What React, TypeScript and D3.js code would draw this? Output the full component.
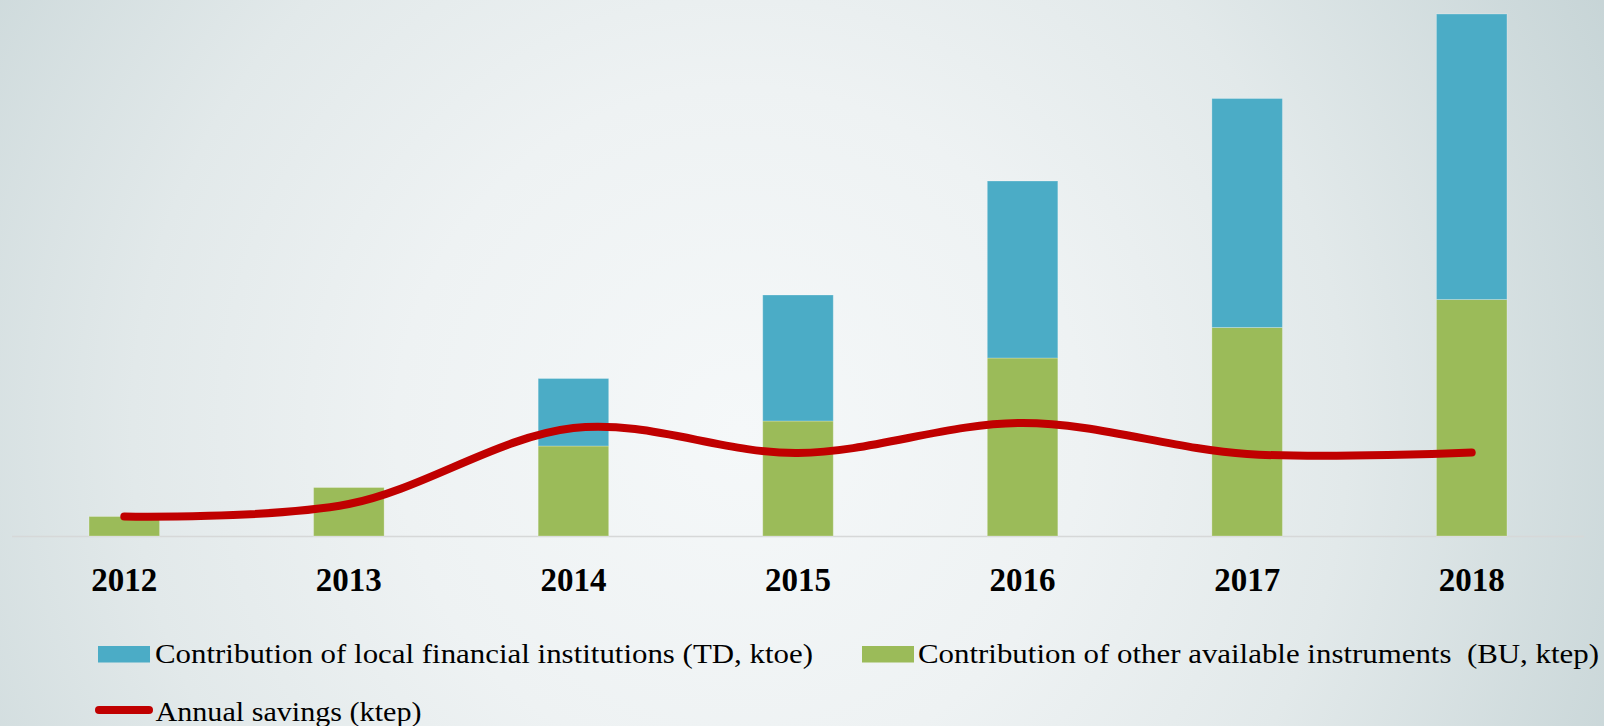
import React from "react";
import * as d3 from "d3";

const years = ["2012", "2013", "2014", "2015", "2016", "2017", "2018"];
const buValues = [39, 97, 180, 230, 356, 417, 473]; // other instruments (BU, ktep)
const tdValues = [0, 0, 135, 252, 354, 458, 571]; // local financial institutions (TD, ktoe)
const savingsValues = [39, 64, 216, 166, 226, 164, 167]; // annual savings (ktep)

const legendLabels = [
  "Contribution of local financial institutions (TD, ktoe)",
  "Contribution of other available instruments  (BU, ktep)",
  "Annual savings (ktep)",
];

const W = 1604;
const H = 726;
const BLUE = "#4BACC6";
const GREEN = "#9BBB59";
const RED = "#C00000";

export default function App() {
  const x = d3
    .scaleBand<string>()
    .domain(years)
    .range([12, 1584])
    .paddingInner(0.686)
    .paddingOuter(0.343);
  const maxTotal = d3.max(years.map((_, i) => buValues[i] + tdValues[i])) as number;
  const y = d3.scaleLinear().domain([0, maxTotal]).range([536, 14]);

  const stacked = years.map((yr, i) => ({ yr, bu: buValues[i], td: tdValues[i] }));
  const series = d3.stack<any>().keys(["bu", "td"])(stacked);
  const colors: Record<string, string> = { bu: GREEN, td: BLUE };

  const line = d3
    .line<number>()
    .x((_, i) => (x(years[i]) as number) + x.bandwidth() / 2)
    .y((d) => y(d))
    .curve(d3.curveCardinal.tension(0));

  const fontSerif = "'Liberation Serif', 'Times New Roman', serif";

  return (
    <svg
      width={W}
      height={H}
      style={{ position: "absolute", left: 0, top: 0, display: "block" }}
    >
      <defs>
        <radialGradient
          id="bg"
          gradientUnits="userSpaceOnUse"
          cx={740}
          cy={430}
          r={980}
        >
          <stop offset="0" stopColor="#f5f8f9" />
          <stop offset="0.35" stopColor="#eef2f3" />
          <stop offset="0.62" stopColor="#e2e9ea" />
          <stop offset="1" stopColor="#c6d4d6" />
        </radialGradient>
      </defs>
      <rect x={0} y={0} width={W} height={H} fill="url(#bg)" />

      {/* axis line */}
      <line x1={12} x2={1584} y1={536.5} y2={536.5} stroke="#d6d8d8" strokeWidth={1.5} />

      {/* bars */}
      {series.map((s) => (
        <g key={s.key} fill={colors[s.key]}>
          {s.map((d: any, i: number) =>
            d[1] - d[0] > 0 ? (
              <rect
                key={i}
                x={x(years[i]) as number}
                width={x.bandwidth()}
                y={y(d[1])}
                height={y(d[0]) - y(d[1])}
                stroke="rgba(255,255,255,0.25)"
                strokeWidth={1}
              />
            ) : null
          )}
        </g>
      ))}

      {/* line */}
      <path
        d={line(savingsValues) || ""}
        fill="none"
        stroke={RED}
        strokeWidth={8}
        strokeLinecap="round"
        strokeLinejoin="round"
      />

      {/* x labels */}
      {years.map((yr) => (
        <text
          key={yr}
          x={(x(yr) as number) + x.bandwidth() / 2}
          y={590.5}
          textAnchor="middle"
          fontFamily={fontSerif}
          fontWeight="bold"
          fontSize={33}
          fill="#000"
        >
          {yr}
        </text>
      ))}

      {/* legend */}
      <rect x={98} y={646} width={52} height={16.5} fill={BLUE} />
      <text
        x={155}
        y={663}
        fontFamily={fontSerif}
        fontSize={27}
        fill="#000"
        textLength={658}
        lengthAdjust="spacingAndGlyphs"
        style={{ whiteSpace: "pre" }}
      >
        {legendLabels[0]}
      </text>
      <rect x={862} y={646} width={52} height={16.5} fill={GREEN} />
      <text
        x={918}
        y={663}
        fontFamily={fontSerif}
        fontSize={27}
        fill="#000"
        textLength={681}
        lengthAdjust="spacingAndGlyphs"
        style={{ whiteSpace: "pre" }}
      >
        {legendLabels[1]}
      </text>
      <line x1={99} x2={149} y1={710} y2={710} stroke={RED} strokeWidth={8} strokeLinecap="round" />
      <text
        x={155.5}
        y={720.5}
        fontFamily={fontSerif}
        fontSize={27}
        fill="#000"
        textLength={266}
        lengthAdjust="spacingAndGlyphs"
        style={{ whiteSpace: "pre" }}
      >
        {legendLabels[2]}
      </text>
    </svg>
  );
}
